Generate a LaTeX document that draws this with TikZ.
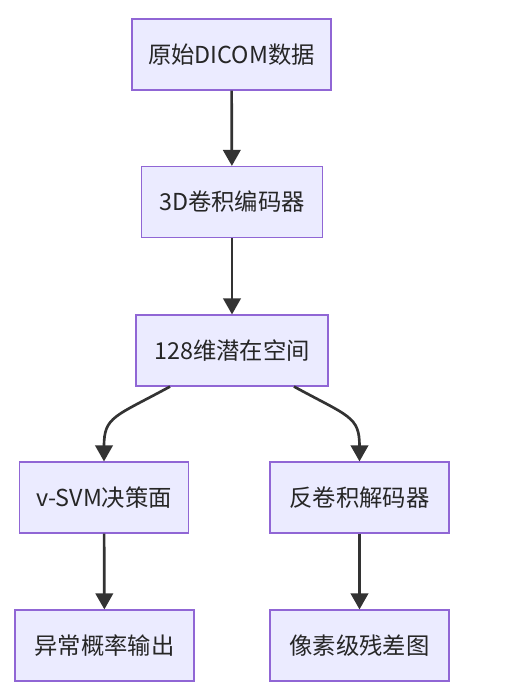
\documentclass[tikz,border=0pt]{standalone}
\usepackage{fontspec}
\setmainfont{Noto Sans CJK SC}
\usetikzlibrary{arrows.meta}

\begin{document}
\begin{tikzpicture}[x=0.75pt, y=0.75pt]
    \tikzstyle{every node} = [draw = violet!55!blue!60, line width = 1.1pt, fill = blue!8, inner sep = 0pt, minimum height = 53pt, font = \fontsize{17.5pt}{20pt}\selectfont, text = black!85];
    \tikzstyle{flow} = [draw = black!80, line width = 2pt, -{Triangle[length = 12pt, width = 13pt]}];
    \useasboundingbox (0,0) rectangle (509,-694);
    \node[minimum width = 149pt] (raw) at (231.5,-54.5) {原始DICOM数据};
    \node[minimum width = 136pt] (enc) at (232,-202) {3D卷积编码器};
    \node[minimum width = 144pt] (lat) at (232,-350.5) {128维潜在空间};
    \node[minimum width = 127pt] (svm) at (104,-497.5) {v-SVM决策面};
    \node[minimum width = 134pt] (dec) at (359.5,-497.5) {反卷积解码器};
    \node[minimum width = 134pt] (prob) at (104.5,-645.5) {异常概率输出};
    \node[minimum width = 134pt] (res) at (359.5,-645.5) {像素级残差图};
    \draw[flow] (raw) -- (enc);
    \draw[flow] (enc) -- (lat);
    \draw[flow] (lat.south) ++(-62,0) .. controls +(-55,-30) and +(0,45) .. (svm.north);
    \draw[flow] (lat.south) ++(62,0) .. controls +(55,-30) and +(0,45) .. (dec.north);
    \draw[flow] (svm) -- (prob);
    \draw[flow] (dec) -- (res);
\end{tikzpicture}
\end{document}
